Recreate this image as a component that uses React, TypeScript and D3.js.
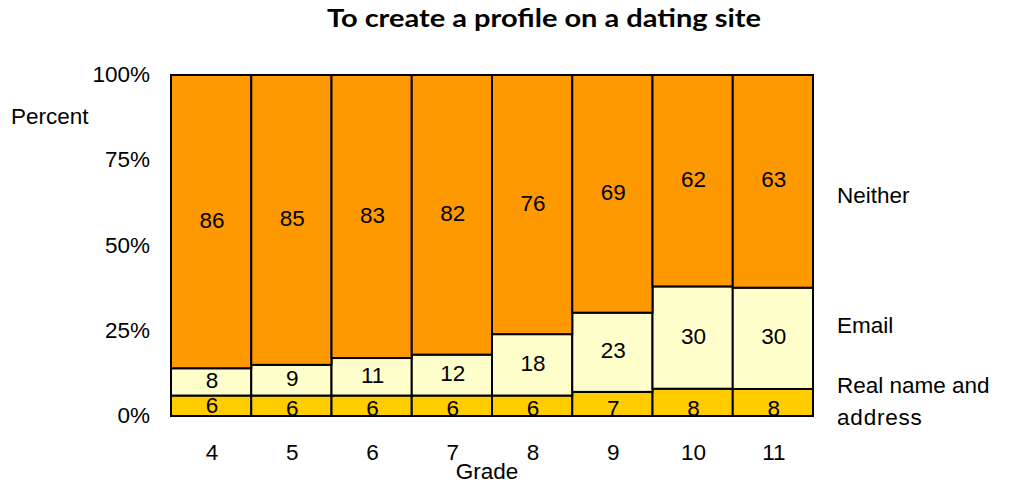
import React, { useEffect, useRef } from 'react';
import * as d3 from 'd3';

const width = 1010;
const height = 485;

const grades = ['4', '5', '6', '7', '8', '9', '10', '11'];
const realName = [6, 6, 6, 6, 6, 7, 8, 8];
const email = [8, 9, 11, 12, 18, 23, 30, 30];
const neither = [86, 85, 83, 82, 76, 69, 62, 63];
const seriesNames = ['Real name and', 'address', 'Email', 'Neither'];
const seriesColors = ['#FFCC00', '#FFFFCC', '#FF9900'];
const yTicks = [0, 0.25, 0.5, 0.75, 1];

const margin = { top: 75, right: 197, bottom: 69, left: 171 };
const font = 'Liberation Sans, Arial, sans-serif';
const fs = 22.5;

const App: React.FC = () => {
  const ref = useRef<SVGSVGElement>(null);

  useEffect(() => {
    if (!ref.current) return;
    const svg = d3.select(ref.current);
    svg.selectAll('*').remove();

    const innerW = width - margin.left - margin.right;
    const innerH = height - margin.top - margin.bottom;

    const rows = grades.map((g, i) => ({
      grade: g,
      real: realName[i],
      email: email[i],
      neither: neither[i],
    }));
    const keys = ['real', 'email', 'neither'];
    const stacked = d3.stack<any>().keys(keys).offset(d3.stackOffsetExpand)(rows);

    const x = d3.scaleBand().domain(grades).range([0, innerW]).padding(0);
    const y = d3.scaleLinear().domain([0, 1]).range([innerH, 0]);

    const g = svg.append('g').attr('transform', `translate(${margin.left},${margin.top})`);

    stacked.forEach((layer, li) => {
      g.append('g')
        .selectAll('rect')
        .data(layer)
        .enter()
        .append('rect')
        .attr('x', d => x(d.data.grade) as number)
        .attr('y', d => y(d[1]))
        .attr('width', x.bandwidth())
        .attr('height', d => y(d[0]) - y(d[1]))
        .attr('fill', seriesColors[li])
        .attr('stroke', '#000')
        .attr('stroke-width', 2);
    });

    stacked.forEach((layer, li) => {
      g.append('g')
        .selectAll('text')
        .data(layer)
        .enter()
        .append('text')
        .attr('x', d => (x(d.data.grade) as number) + x.bandwidth() / 2 + 1)
        .attr('y', (d, i) =>
          li === 0 ? y(0) - (i === 0 ? 3 : 0.5) : (y(d[0]) + y(d[1])) / 2 + 6
        )
        .attr('text-anchor', 'middle')
        .attr('font-family', font)
        .attr('font-size', fs)
        .attr('fill', '#000')
        .text(d => d.data[layer.key]);
    });

    // y tick labels
    g.append('g')
      .selectAll('text')
      .data(yTicks)
      .enter()
      .append('text')
      .attr('x', -21)
      .attr('y', d => y(d) + 7)
      .attr('text-anchor', 'end')
      .attr('font-family', font)
      .attr('font-size', fs)
      .text(d => d3.format('.0%')(d));

    // x tick labels
    g.append('g')
      .selectAll('text')
      .data(grades)
      .enter()
      .append('text')
      .attr('x', d => (x(d) as number) + x.bandwidth() / 2 + 1)
      .attr('y', innerH + 44)
      .attr('text-anchor', 'middle')
      .attr('font-family', font)
      .attr('font-size', fs)
      .text(d => d);

    // series labels on the right
    const lastRow = stacked.map(layer => layer[layer.length - 1]);
    const labelX = innerW + 24;
    const rightLabel = (ty: number) =>
      g
        .append('text')
        .attr('x', labelX)
        .attr('y', ty)
        .attr('font-family', font)
        .attr('font-size', fs);
    rightLabel(y(0.75) + 43).text(seriesNames[3]);
    rightLabel(y(lastRow[1][1]) + 45).text(seriesNames[2]);
    const realLabel = rightLabel(innerH - 23);
    realLabel.append('tspan').attr('x', labelX).text(seriesNames[0]);
    realLabel
      .append('tspan')
      .attr('x', labelX)
      .attr('dy', 32)
      .attr('letter-spacing', 0.8)
      .text(seriesNames[1]);

    svg
      .append('text')
      .attr('x', 11)
      .attr('y', 124)
      .attr('font-family', font)
      .attr('font-size', fs)
      .text('Percent');

    svg
      .append('text')
      .attr('x', margin.left + innerW / 2 - 5)
      .attr('y', 479)
      .attr('text-anchor', 'middle')
      .attr('font-family', font)
      .attr('font-size', fs)
      .text('Grade');

    svg
      .append('text')
      .attr('x', 327)
      .attr('y', 27)
      .attr('font-family', 'Lato, DejaVu Sans, sans-serif')
      .attr('font-weight', 'bold')
      .attr('font-size', 24)
      .attr('textLength', 434)
      .attr('lengthAdjust', 'spacingAndGlyphs')
      .text('To create a profile on a dating site');
  }, []);

  return (
    <svg
      ref={ref}
      width={width}
      height={height}
      style={{ position: 'absolute', top: 0, left: 0, background: '#fff' }}
    />
  );
};

export default App;
